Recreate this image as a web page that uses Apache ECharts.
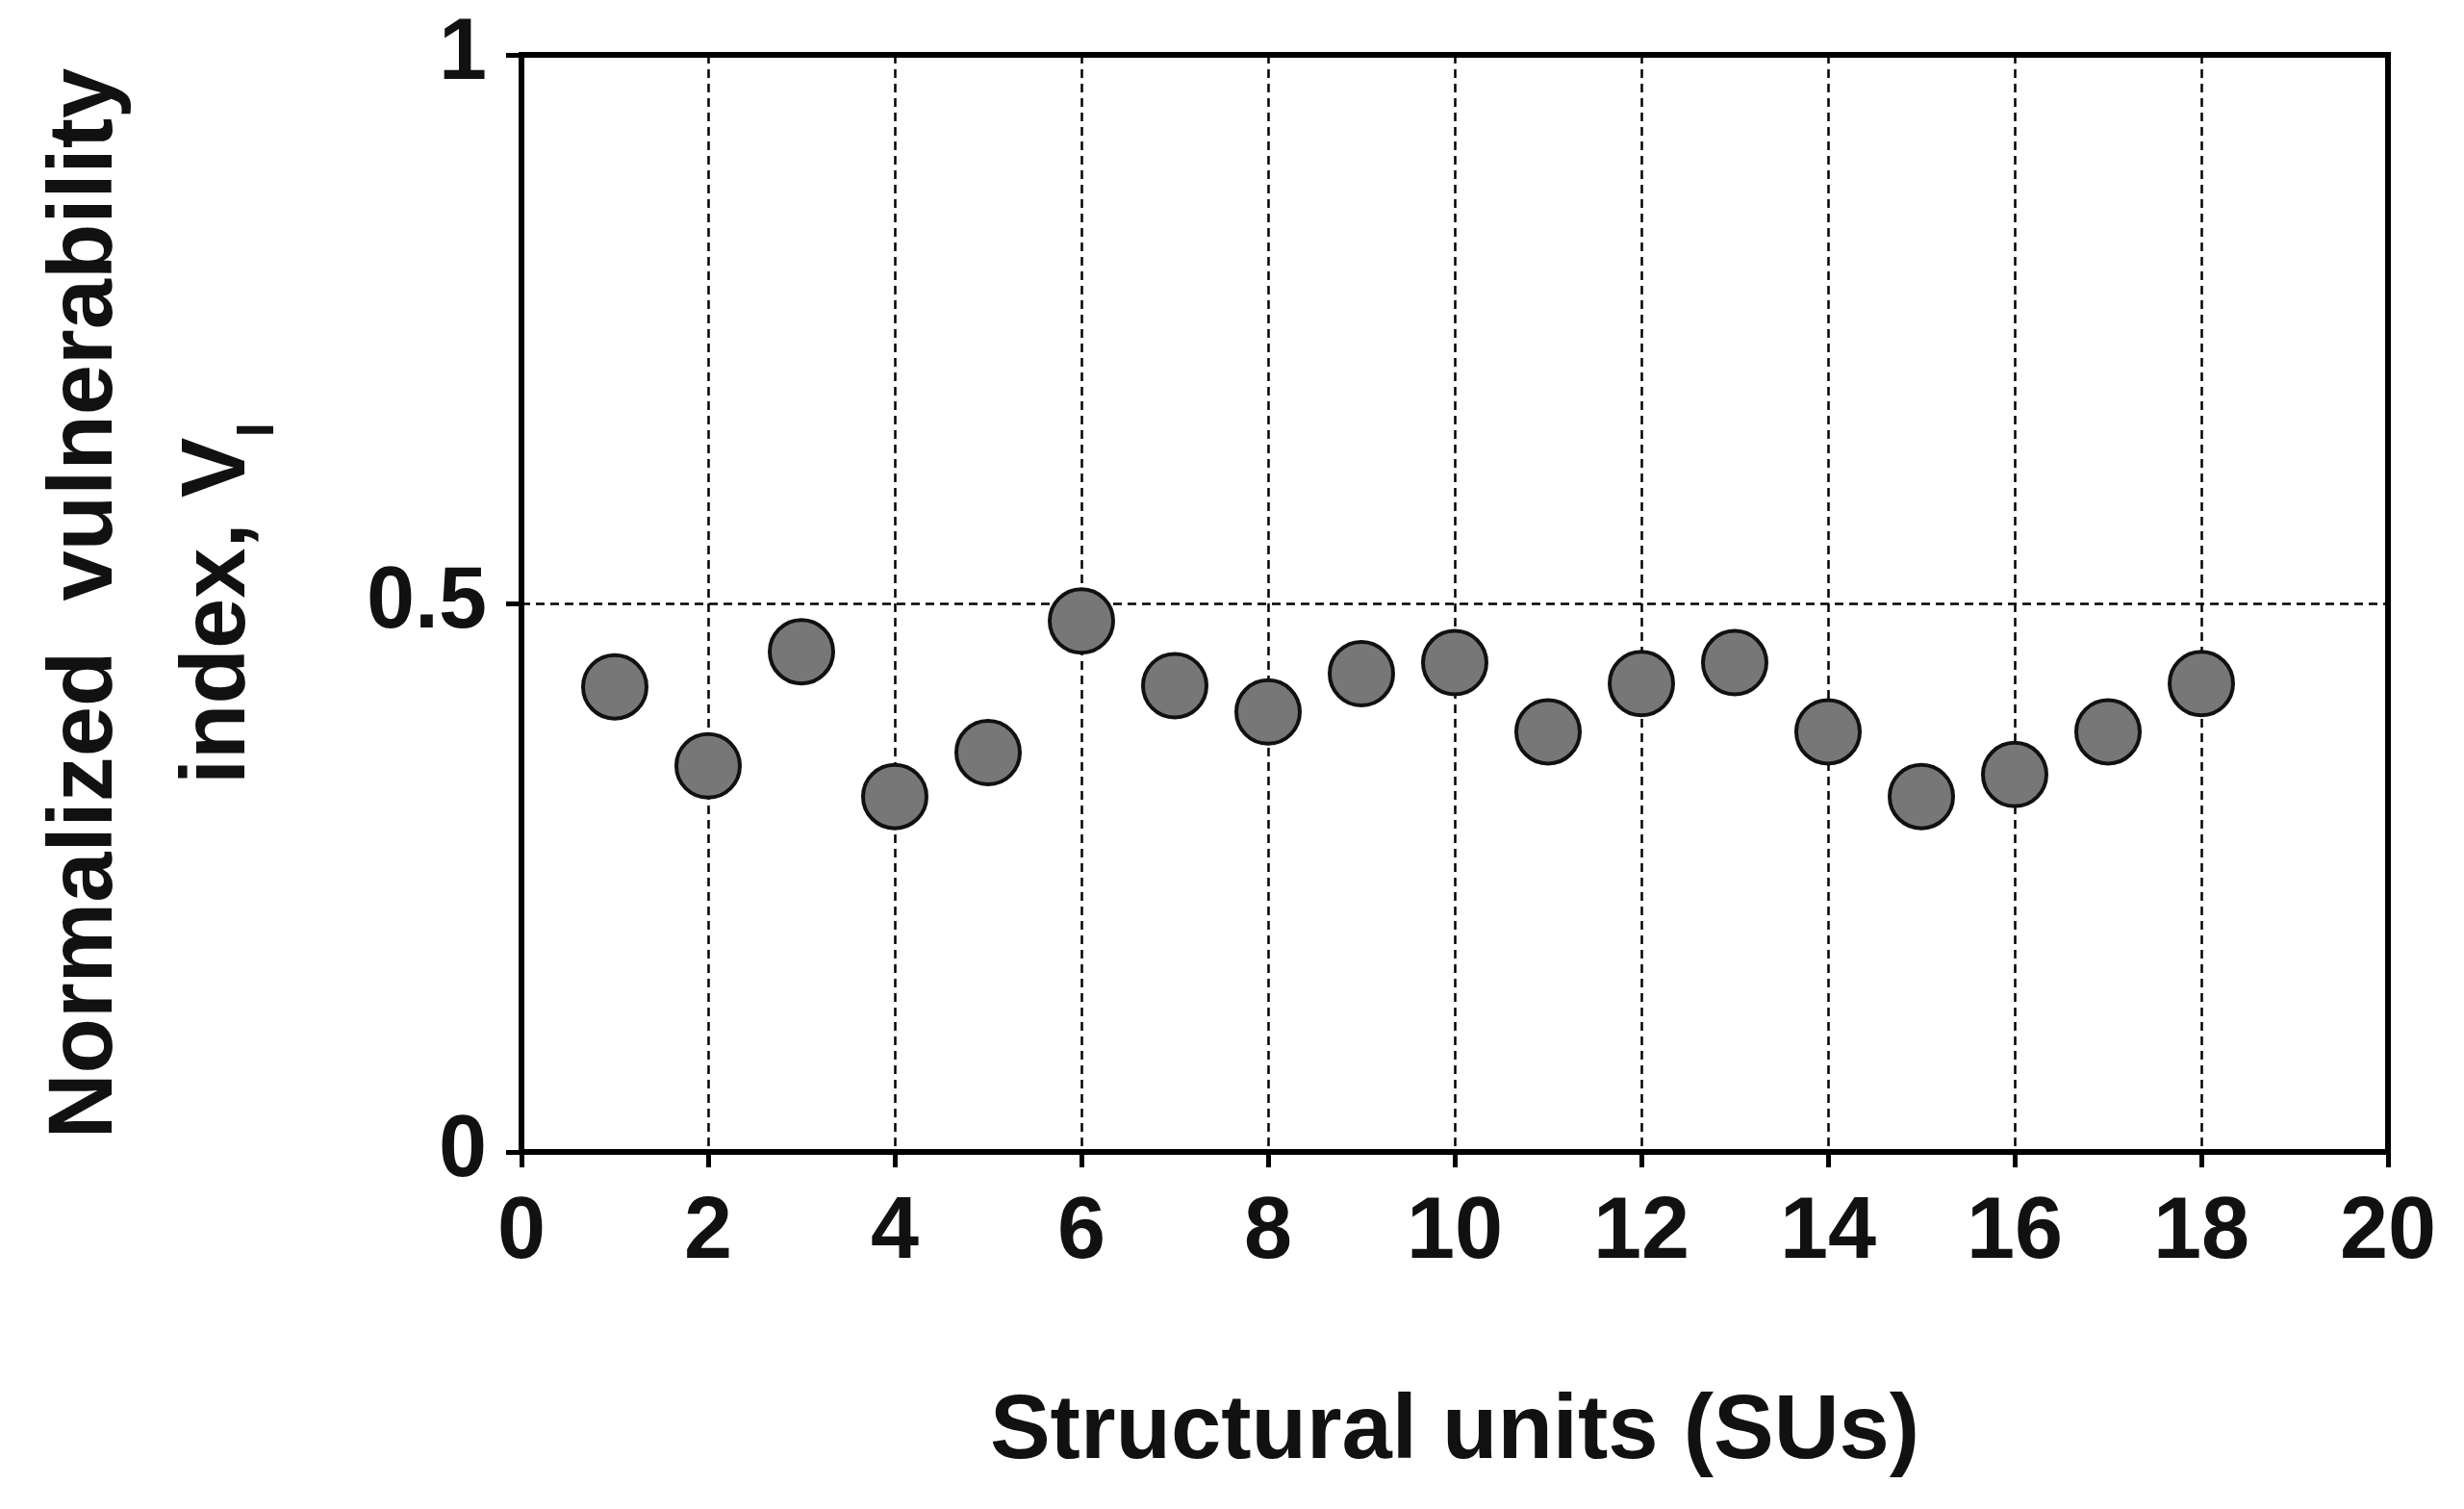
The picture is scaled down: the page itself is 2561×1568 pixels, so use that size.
<!DOCTYPE html><html><head><meta charset="utf-8">
<script src="https://cdn.jsdelivr.net/npm/echarts@6/dist/echarts.min.js"></script>
<style>html,body{margin:0;padding:0;background:#fff}#c{width:2561px;height:1568px}</style></head><body><div id="c"></div>
<script>
const units=[1,2,3,4,5,6,7,8,9,10,11,12,13,14,15,16,17,18];
const vi=[0.424,0.352,0.456,0.324,0.364,0.484,0.425,0.401,0.436,0.446,0.383,0.427,0.446,0.383,0.324,0.344,0.383,0.427];
const F='"Liberation Sans", Arial, sans-serif';
const ch=echarts.init(document.getElementById('c'));
ch.setOption({
 animation:false,
 grid:{left:542,right:79,top:57,bottom:371,show:true,borderColor:'#000',borderWidth:6,containLabel:false,outerBoundsMode:'none'},
 xAxis:{type:'value',min:0,max:20,interval:2,
  name:'Structural units (SUs)',nameLocation:'middle',nameGap:245,
  nameTextStyle:{fontFamily:F,fontWeight:'bold',fontSize:94,color:'#111'},
  axisLine:{lineStyle:{color:'#000',width:6}},
  axisTick:{show:true,length:16,lineStyle:{color:'#000',width:5}},
  axisLabel:{fontFamily:F,fontWeight:'bold',fontSize:90,color:'#111',margin:40},
  splitLine:{show:true,lineStyle:{color:'#000',width:2.5,type:[9,6]}}},
 yAxis:{type:'value',min:0,max:1,interval:0.5,
  name:'{a|Normalized  vulnerability}\n{a|index, V}{s|I}',nameLocation:'middle',nameGap:245,nameRotate:90,
  nameTextStyle:{rich:{a:{fontFamily:F,fontWeight:'bold',fontSize:94,color:'#111',lineHeight:138},s:{fontFamily:F,fontWeight:'bold',fontSize:56,color:'#111',verticalAlign:'bottom',lineHeight:100}}},
  axisLine:{show:true,lineStyle:{color:'#000',width:6}},
  axisTick:{show:true,length:16,lineStyle:{color:'#000',width:5}},
  axisLabel:{fontFamily:F,fontWeight:'bold',fontSize:90,color:'#111',margin:36,formatter:v=>String(v)},
  splitLine:{show:true,lineStyle:{color:'#000',width:2.5,type:[9,6]}}},
 series:[{type:'scatter',data:units.map((u,i)=>[u,vi[i]]),symbolSize:66,
  itemStyle:{color:'#777',borderColor:'#111',borderWidth:4,opacity:1}}]
});
</script></body></html>
